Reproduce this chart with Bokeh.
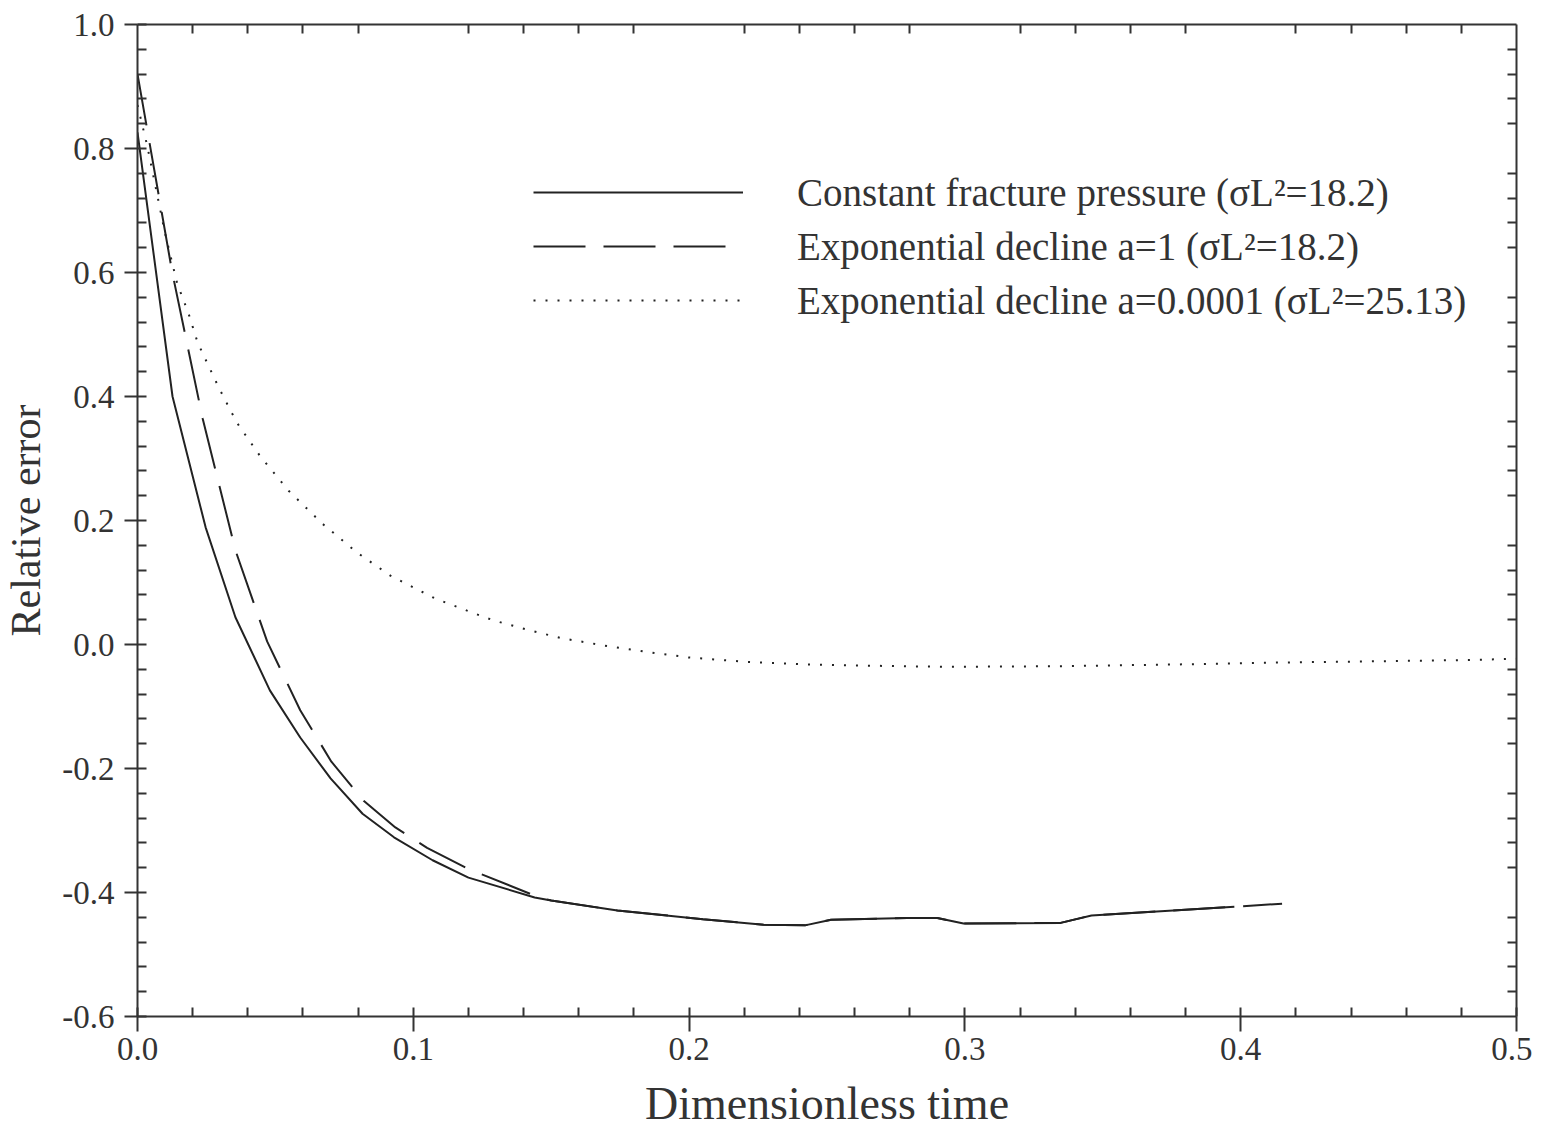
from bokeh.plotting import figure
from bokeh.models import Range1d, LinearAxis, FixedTicker, NumeralTickFormatter, Legend, LegendItem
from bokeh.embed import file_html
from bokeh.resources import INLINE

# ---- data ----
const_t = [0.0, 0.0127, 0.0247, 0.0355, 0.048, 0.059, 0.070, 0.0816, 0.093, 0.107, 0.120, 0.144,
           0.150, 0.174, 0.205, 0.227, 0.242, 0.2515, 0.279, 0.290, 0.2995, 0.3347, 0.3459, 0.3977]
const_err = [0.826, 0.400, 0.189, 0.044, -0.074, -0.150, -0.216, -0.273, -0.311, -0.348, -0.376, -0.408,
             -0.413, -0.429, -0.443, -0.452, -0.453, -0.444, -0.441, -0.441, -0.450, -0.449, -0.437, -0.423]

exp1_t = [0.0, 0.0126, 0.0236, 0.0355, 0.047, 0.059, 0.0703, 0.082, 0.0935, 0.105, 0.120, 0.144,
          0.150, 0.174, 0.205, 0.227, 0.242, 0.2515, 0.279, 0.290, 0.2995, 0.3347, 0.3459, 0.3977, 0.415]
exp1_err = [0.920, 0.600, 0.365, 0.152, 0.005, -0.106, -0.189, -0.252, -0.295, -0.328, -0.362, -0.405,
            -0.413, -0.429, -0.443, -0.452, -0.453, -0.444, -0.441, -0.441, -0.450, -0.449, -0.437, -0.423, -0.418]

exp2_t = [0.0, 0.0035, 0.010, 0.0144, 0.0185, 0.0218, 0.0294, 0.036, 0.0446, 0.0548, 0.067, 0.0797,
          0.0917, 0.108, 0.121, 0.129, 0.142, 0.154, 0.171, 0.188, 0.200, 0.221, 0.242, 0.263, 0.292,
          0.335, 0.379, 0.4155, 0.4507, 0.4826, 0.500]
exp2_err = [0.870, 0.805, 0.663, 0.582, 0.534, 0.487, 0.415, 0.358, 0.303, 0.248, 0.195, 0.148,
            0.111, 0.074, 0.052, 0.039, 0.023, 0.010, -0.003, -0.014, -0.021, -0.028, -0.032, -0.034, -0.036,
            -0.035, -0.032, -0.029, -0.027, -0.025, -0.023]

labels = ["Constant fracture pressure (\u03c3L\u00b2=18.2)",
          "Exponential decline a=1 (\u03c3L\u00b2=18.2)",
          "Exponential decline a=0.0001 (\u03c3L\u00b2=25.13)"]

x_major = [0.0, 0.1, 0.2, 0.3, 0.4, 0.5]
x_minor = [round(i * 0.02, 2) for i in range(26)]
y_major = [-0.6, -0.4, -0.2, 0.0, 0.2, 0.4, 0.6, 0.8, 1.0]
y_minor = [round(-0.6 + i * 0.04, 2) for i in range(41)]
# frame ticks on top / right: only the minor positions (no tick at the majors)
x_minor_only = [v for v in x_minor if all(abs(v - m) > 1e-9 for m in x_major)]
y_minor_only = [v for v in y_minor if all(abs(v - m) > 1e-9 for m in y_major)]

FONT = "Liberation Serif"
INK = "#222222"
AX = "#333333"

p = figure(frame_width=1379, frame_height=992,
           x_range=Range1d(0, 0.5), y_range=Range1d(-0.6, 1.0),
           output_backend="svg", toolbar_location=None,
           min_border_left=133, min_border_top=24, min_border_right=16, min_border_bottom=90)
p.xgrid.visible = False
p.ygrid.visible = False
p.outline_line_color = None
p.background_fill_color = "white"

for ax in (p.xaxis[0], p.yaxis[0]):
    ax.axis_line_color = AX
    ax.axis_line_width = 2
    ax.major_tick_line_color = AX
    ax.major_tick_line_width = 2
    ax.minor_tick_line_color = AX
    ax.minor_tick_line_width = 2
    ax.major_tick_in = 0
    ax.minor_tick_in = 9
    ax.minor_tick_out = 0
    ax.major_label_text_font = FONT
    ax.major_label_text_font_size = "33px"
    ax.major_label_text_color = AX
    ax.axis_label_text_font = FONT
    ax.axis_label_text_font_style = "normal"
    ax.axis_label_text_color = AX
    ax.formatter = NumeralTickFormatter(format="0.0")

p.xaxis[0].ticker = FixedTicker(ticks=x_major, minor_ticks=x_minor)
p.yaxis[0].ticker = FixedTicker(ticks=y_major, minor_ticks=y_minor)
p.xaxis[0].major_tick_out = 15
p.yaxis[0].major_tick_out = 13
p.xaxis[0].major_label_standoff = 6
p.yaxis[0].major_label_standoff = 10
p.xaxis[0].axis_label = "Dimensionless time"
p.yaxis[0].axis_label = "Relative error"
p.xaxis[0].axis_label_text_font_size = "46px"
p.yaxis[0].axis_label_text_font_size = "42px"
p.xaxis[0].axis_label_standoff = 15
p.yaxis[0].axis_label_standoff = 10

top = LinearAxis(ticker=FixedTicker(ticks=[], minor_ticks=x_minor_only),
                 major_tick_in=0, major_tick_out=0, minor_tick_in=9, minor_tick_out=0,
                 major_label_standoff=0,
                 axis_line_color=AX, axis_line_width=2,
                 minor_tick_line_color=AX, minor_tick_line_width=2)
right = LinearAxis(ticker=FixedTicker(ticks=[], minor_ticks=y_minor_only),
                   major_tick_in=0, major_tick_out=0, minor_tick_in=9, minor_tick_out=0,
                   major_label_standoff=0,
                   axis_line_color=AX, axis_line_width=2,
                   minor_tick_line_color=AX, minor_tick_line_width=2)
p.add_layout(top, "above")
p.add_layout(right, "right")

r1 = p.line(const_t, const_err, line_color=INK, line_width=2)
r2 = p.line(exp1_t, exp1_err, line_color=INK, line_width=2, line_dash="52 18")
r3 = p.line(exp2_t, exp2_err, line_color=INK, line_width=2, line_dash="2 10")

legend = Legend(items=[LegendItem(label=labels[0], renderers=[r1]),
                       LegendItem(label=labels[1], renderers=[r2]),
                       LegendItem(label=labels[2], renderers=[r3])],
                location=(396, 689), glyph_width=210, glyph_height=54, label_height=54,
                label_standoff=54, spacing=0, padding=0, margin=0,
                border_line_color=None, background_fill_alpha=0,
                label_text_font=FONT, label_text_font_size="39px", label_text_color=AX)
p.add_layout(legend)

open("out.html", "w").write(file_html(p, INLINE))
